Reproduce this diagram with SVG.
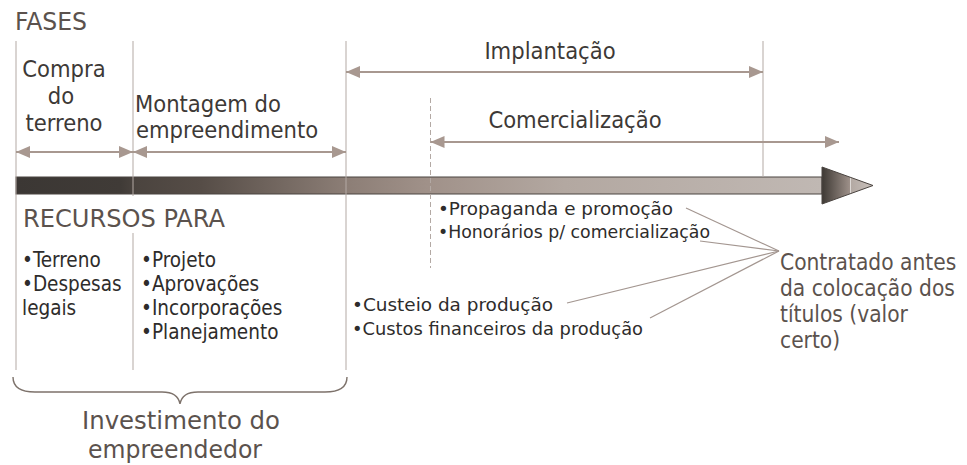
<svg xmlns="http://www.w3.org/2000/svg" width="967" height="465" viewBox="0 0 967 465">
<style>
text{font-family:"DejaVu Sans Condensed","DejaVu Sans",sans-serif}
.h{font-size:24.5px;fill:#5b524d}
.c{font-size:22.5px;fill:#5b524d}
.i{font-size:25px;fill:#5b524d}
.p{font-size:23.5px;fill:#3d3936}
.b{font-size:20.5px;fill:#2e2c2b}
.s{font-size:18.5px;fill:#2e2c2b}
.v{stroke:#b3a9a4;stroke-width:1;fill:none}
.ar{stroke:#a89890;stroke-width:2;fill:none;marker-start:url(#ah);marker-end:url(#ah)}
.cn{stroke:#a39690;stroke-width:1.2;fill:none}
</style>
<defs>
<marker id="ah" markerWidth="14" markerHeight="12" refX="14" refY="6" orient="auto-start-reverse" markerUnits="userSpaceOnUse"><path d="M0,0 L14,6 L0,12 z" fill="#a89890"/></marker>
<linearGradient id="bar" gradientUnits="userSpaceOnUse" x1="16" y1="0" x2="822" y2="0">
<stop offset="0" stop-color="#3b3734"/>
<stop offset="0.13" stop-color="#403b37"/>
<stop offset="0.15" stop-color="#4b443f"/>
<stop offset="0.23" stop-color="#564d47"/>
<stop offset="0.41" stop-color="#8c7e76"/>
<stop offset="0.51" stop-color="#a09189"/>
<stop offset="0.68" stop-color="#b3a8a1"/>
<stop offset="1" stop-color="#c0b8b3"/>
</linearGradient>
<linearGradient id="head" gradientUnits="userSpaceOnUse" x1="822" y1="0" x2="873" y2="0">
<stop offset="0" stop-color="#3e3934"/>
<stop offset="0.54" stop-color="#9c8f88"/>
<stop offset="0.55" stop-color="#ffffff"/>
<stop offset="0.57" stop-color="#b3a9a3"/>
<stop offset="1" stop-color="#c8c0bb"/>
</linearGradient>
</defs>

<g id="timeline">
<rect x="16" y="177" width="806" height="17" fill="url(#bar)" stroke="#4a4440" stroke-width="1"/>
<path d="M822,167 L873,185.5 L822,204 z" fill="url(#head)" stroke="#4a4440" stroke-width="1"/>
</g>

<g id="connectors">
<line class="v" x1="16" y1="41" x2="16" y2="370"/>
<line class="v" x1="133" y1="41" x2="133" y2="196"/>
<line class="v" x1="133" y1="233" x2="133" y2="370"/>
<line class="v" x1="346" y1="41" x2="346" y2="370"/>
<line class="v" x1="763" y1="41" x2="763" y2="177"/>
<line class="v" x1="430.5" y1="98" x2="430.5" y2="268" stroke-dasharray="5,3"/>
<line class="ar" x1="16" y1="152" x2="133" y2="152"/>
<line class="ar" x1="133" y1="152" x2="346" y2="152"/>
<line class="ar" x1="346" y1="72" x2="763" y2="72"/>
<line class="ar" x1="430.5" y1="142" x2="839" y2="142"/>
<line class="cn" x1="686" y1="208" x2="779" y2="251"/>
<line class="cn" x1="700" y1="241" x2="779" y2="251"/>
<line class="cn" x1="567" y1="303" x2="779" y2="251"/>
<line class="cn" x1="650" y1="318" x2="779" y2="251"/>
<path d="M13,377 Q13,392 35,392 L162,392 Q178,392 180,404 Q182,392 198,392 L325,392 Q347,392 347,377" stroke="#7d726b" stroke-width="1.4" fill="none"/>
</g>

<g id="fases"><text class="h" x="15" y="30" textLength="72" lengthAdjust="spacingAndGlyphs">FASES</text></g>
<g id="compra">
<text class="p" text-anchor="middle" x="64" y="77">Compra</text>
<text class="p" text-anchor="middle" x="61" y="104">do</text>
<text class="p" text-anchor="middle" x="64" y="131">terreno</text>
</g>
<g id="montagem">
<text class="p" x="135" y="112">Montagem do</text>
<text class="p" x="136" y="138">empreendimento</text>
</g>
<g id="implantacao"><text class="p" text-anchor="middle" x="550" y="59">Implantação</text></g>
<g id="comercializacao"><text class="p" text-anchor="middle" x="575" y="128">Comercialização</text></g>
<g id="recursos"><text class="h" x="23" y="227" textLength="202" lengthAdjust="spacingAndGlyphs">RECURSOS PARA</text></g>
<g id="rec-terreno">
<text class="b" x="22" y="267">•Terreno</text>
<text class="b" x="22" y="291">•Despesas</text>
<text class="b" x="22" y="315">legais</text>
</g>
<g id="rec-montagem">
<text class="b" x="141" y="267">•Projeto</text>
<text class="b" x="141" y="291">•Aprovações</text>
<text class="b" x="141" y="315">•Incorporações</text>
<text class="b" x="141" y="339">•Planejamento</text>
</g>
<g id="rec-comercial">
<text class="s" x="438" y="215" textLength="235" lengthAdjust="spacingAndGlyphs">•Propaganda e promoção</text>
<text class="s" x="438" y="238" textLength="272" lengthAdjust="spacingAndGlyphs">•Honorários p/ comercialização</text>
</g>
<g id="rec-producao">
<text class="s" x="352" y="311" textLength="201" lengthAdjust="spacingAndGlyphs">•Custeio da produção</text>
<text class="s" x="352" y="335" textLength="291" lengthAdjust="spacingAndGlyphs">•Custos financeiros da produção</text>
</g>
<g id="contratado">
<text class="c" x="780" y="270">Contratado antes</text>
<text class="c" x="780" y="296">da colocação dos</text>
<text class="c" x="780" y="322">títulos (valor</text>
<text class="c" x="780" y="348">certo)</text>
</g>
<g id="investimento">
<text class="i" x="82" y="429" textLength="198" lengthAdjust="spacingAndGlyphs">Investimento do</text>
<text class="i" x="88" y="458" textLength="174" lengthAdjust="spacingAndGlyphs">empreendedor</text>
</g>
</svg>
